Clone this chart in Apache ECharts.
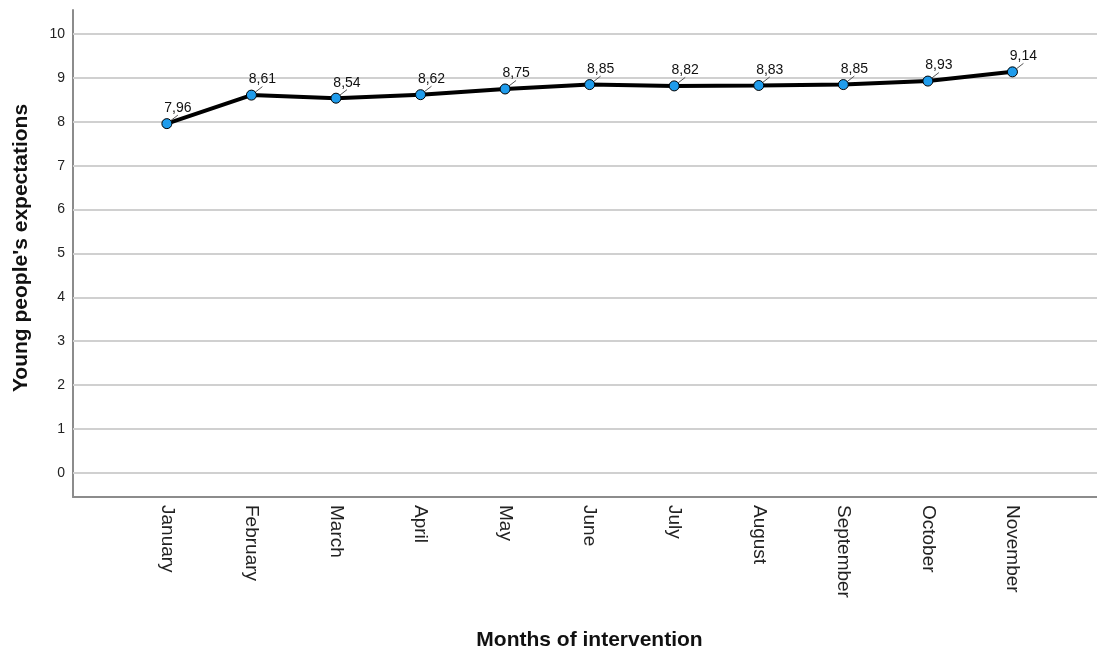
<!DOCTYPE html>
<html><head><meta charset="utf-8">
<script src="https://cdn.jsdelivr.net/npm/echarts@6/dist/echarts.min.js"></script>
<style>html,body{margin:0;padding:0;background:#fff}#c{width:1097px;height:650px}</style>
</head><body><div id="c"></div>
<script>
const months = ['January','February','March','April','May','June','July','August','September','October','November'];
const expectations = [7.96, 8.61, 8.54, 8.62, 8.75, 8.85, 8.82, 8.83, 8.85, 8.93, 9.14];
const yTickValues = [0,1,2,3,4,5,6,7,8,9,10];
const xTickPositions = [0,1,2,3,4,5,6,7,8,9,10];
const xTitle = 'Months of intervention';
const yTitle = "Young people's expectations";

const seriesData = expectations.map((v, i) => [xTickPositions[i], v]);
const gridLineData = yTickValues.map(v => ({yAxis: v}));
const FONT = '"Liberation Sans", Arial, sans-serif';

const chart = echarts.init(document.getElementById('c'), null, {renderer: 'canvas'});
chart.setOption({
  animation: false,
  backgroundColor: '#ffffff',
  grid: {left: 73, right: 0, top: 10, bottom: 153, containLabel: false, outerBoundsMode: 'none'},
  xAxis: {
    type: 'value', min: -1.11, max: 11.0,
    axisLine: {show: true, onZero: false, lineStyle: {color: '#8c8c8c', width: 2}},
    axisTick: {show: false, customValues: xTickPositions},
    splitLine: {show: false},
    axisLabel: {
      customValues: xTickPositions, rotate: -90, margin: 8,
      fontFamily: FONT, fontSize: 19, color: '#222',
      padding: [7, 0, 0, 0],
      formatter: v => months[Math.round(v)]
    },
    name: xTitle, nameLocation: 'middle', nameGap: 133,
    nameTextStyle: {fontFamily: FONT, fontSize: 21, fontWeight: 'bold', color: '#111', padding: [0,0,0,9]}
  },
  yAxis: {
    type: 'value', min: -0.55, max: 10.55,
    axisLine: {show: true, onZero: false, lineStyle: {color: '#8c8c8c', width: 2}},
    axisTick: {show: false, customValues: yTickValues},
    splitLine: {show: false},
    axisLabel: {customValues: yTickValues, margin: 8, fontFamily: FONT, fontSize: 14, color: '#222'},
    name: yTitle, nameLocation: 'middle', nameGap: 41,
    nameTextStyle: {fontFamily: FONT, fontSize: 21, fontWeight: 'bold', color: '#111', padding: [0,0,0,11]}
  },
  series: [{
    type: 'line',
    data: [],
    z: 1,
    silent: true,
    markLine: {
      z: 1, silent: true, symbol: ['none', 'none'], animation: false,
      label: {show: false},
      lineStyle: {color: '#d0d0d0', width: 2, type: 'solid'},
      emphasis: {disabled: true},
      data: gridLineData
    }
  }, {
    type: 'line',
    data: seriesData,
    symbol: 'circle', symbolSize: 10,
    lineStyle: {color: '#000', width: 4},
    itemStyle: {color: '#1f9cec', borderColor: '#000', borderWidth: 1},
    z: 3,
    label: {
      show: true, position: 'top', distance: 5,
      fontFamily: FONT, fontSize: 14, color: '#111',
      formatter: p => p.value[1].toFixed(2).replace('.', ',')
    },
    labelLayout: {dx: 11, dy: 2},
    labelLine: {show: true, lineStyle: {color: '#555', width: 1}}
  }]
});
</script></body></html>
